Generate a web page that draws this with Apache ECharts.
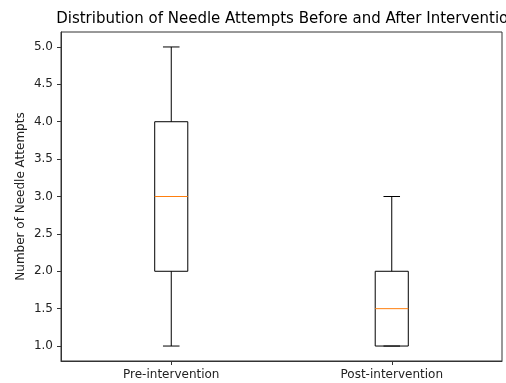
<!DOCTYPE html>
<html>
<head>
<meta charset="utf-8">
<script src="https://cdn.jsdelivr.net/npm/echarts@6/dist/echarts.min.js"></script>
<style>
  html, body { margin: 0; padding: 0; background: #fff; }
  #chart { width: 506px; height: 383px; }
</style>
</head>
<body>
<div id="chart"></div>
<script>
// box stats
const categories = ['Pre-intervention', 'Post-intervention'];
const mins = [1, 1];
const q1s = [2, 1];
const medians = [3, 1.5];
const q3s = [4, 2];
const maxs = [5, 3];
const yTicks = [1.0, 1.5, 2.0, 2.5, 3.0, 3.5, 4.0, 4.5, 5.0];

const font = 'DejaVu Sans';
const boxData = categories.map((c, i) => [i, mins[i], q1s[i], medians[i], q3s[i], maxs[i]]);

const chart = echarts.init(document.getElementById('chart'));

function renderBox(params, api) {
    const x = api.value(0);
    const pMin = api.coord([x, api.value(1)]);
    const pQ1 = api.coord([x, api.value(2)]);
    const pMed = api.coord([x, api.value(3)]);
    const pQ3 = api.coord([x, api.value(4)]);
    const pMax = api.coord([x, api.value(5)]);
    const band = api.size([1, 0])[0];
    const hw = band * 0.15 / 2;   // half box width
    const cw = hw / 2;            // half cap width
    const cx = pMed[0];
    const line = (x1, y1, x2, y2, color) => ({
        type: 'line',
        shape: {x1: x1, y1: y1, x2: x2, y2: y2},
        style: {stroke: color || '#000', lineWidth: 1},
        subPixelOptimize: true
    });
    return {
        type: 'group',
        children: [
            {
                type: 'rect',
                shape: {x: cx - hw, y: pQ3[1], width: hw * 2, height: pQ1[1] - pQ3[1]},
                style: {fill: 'none', stroke: '#000', lineWidth: 1},
                subPixelOptimize: true
            },
            line(cx, pQ3[1], cx, pMax[1]),
            line(cx, pQ1[1], cx, pMin[1]),
            line(cx - cw, pMax[1], cx + cw, pMax[1]),
            line(cx - cw, pMin[1], cx + cw, pMin[1]),
            line(cx - hw, pMed[1], cx + hw, pMed[1], '#ff7f0e')
        ]
    };
}

const option = {
    animation: false,
    backgroundColor: '#fff',
    title: {
        text: 'Distribution of Needle Attempts Before and After Intervention',
        left: 282,
        top: 7,
        textAlign: 'center',
        textStyle: {fontFamily: font, fontSize: 15, fontWeight: 'normal', color: '#000'}
    },
    grid: {
        left: 61, right: 4, top: 32, bottom: 22,
        show: true, borderColor: '#333', borderWidth: 1
    },
    xAxis: {
        type: 'category',
        data: categories,
        boundaryGap: true,
        axisLine: {show: true, lineStyle: {color: '#333'}},
        axisTick: {show: true, alignWithLabel: true, length: 4, lineStyle: {color: '#333'}},
        axisLabel: {fontFamily: font, fontSize: 12, color: '#222', margin: 8},
        splitLine: {show: false}
    },
    yAxis: {
        type: 'value',
        min: 0.8,
        max: 5.2,
        name: 'Number of Needle Attempts',
        nameLocation: 'middle',
        nameGap: 34,
        nameMoveOverlap: false,
        nameTextStyle: {fontFamily: font, fontSize: 12, color: '#222'},
        axisLine: {show: true, lineStyle: {color: '#333'}},
        axisTick: {show: true, length: 4, customValues: yTicks, lineStyle: {color: '#333'}},
        axisLabel: {
            fontFamily: font, fontSize: 12, color: '#222', margin: 8,
            customValues: yTicks,
            formatter: v => v.toFixed(1)
        },
        splitLine: {show: false}
    },
    series: [{
        type: 'custom',
        renderItem: renderBox,
        encode: {x: 0, y: [1, 2, 3, 4, 5]},
        data: boxData
    }]
};

chart.setOption(option);
</script>
</body>
</html>
